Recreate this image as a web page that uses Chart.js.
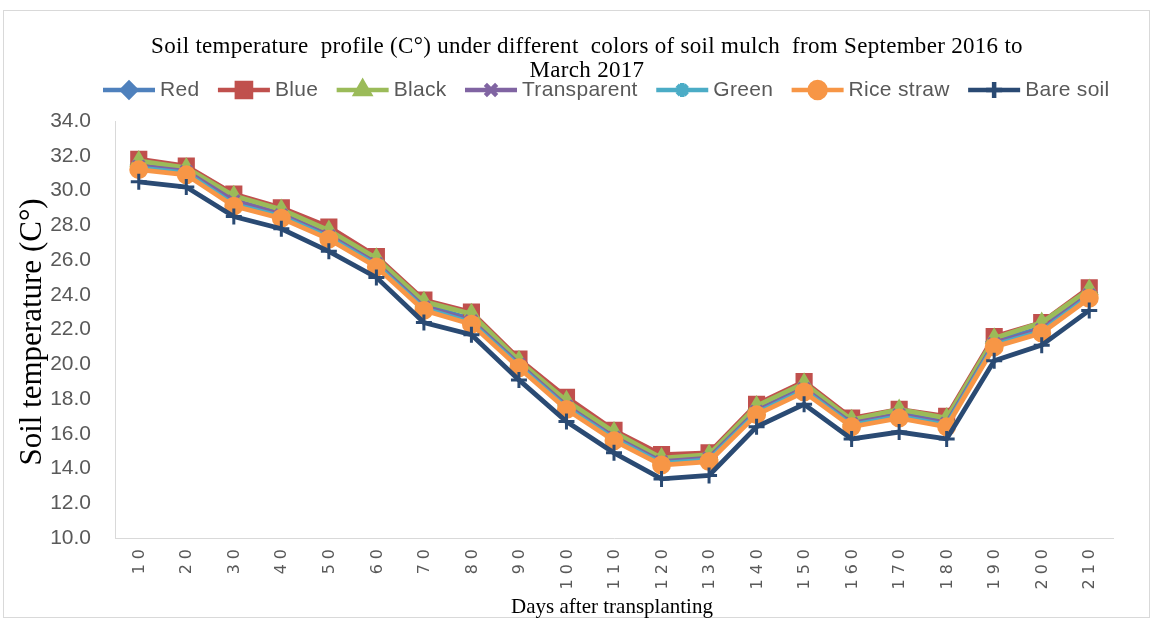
<!DOCTYPE html>
<html>
<head>
<meta charset="utf-8">
<title>Soil temperature profile</title>
<script src="https://cdn.jsdelivr.net/npm/chart.js@4/dist/chart.umd.min.js"></script>
<style>
  html, body { margin: 0; padding: 0; background: #fff; }
  #wrap { width: 1154px; height: 621px; }
</style>
</head>
<body>
<div id="wrap"><canvas id="soilChart" width="1154" height="621"></canvas></div>
<script>
// days after transplanting
const days = [10, 20, 30, 40, 50, 60, 70, 80, 90, 100, 110, 120, 130, 140, 150, 160, 170, 180, 190, 200, 210];

// soil temperature (C°) per mulch colour
const red         = [31.5, 31.2, 29.4, 28.7, 27.5, 25.9, 23.4, 22.6, 20.1, 17.7, 15.9, 14.4, 14.6, 17.4, 18.7, 16.7, 17.2, 16.7, 21.3, 22.1, 24.1];
const blue        = [31.8, 31.4, 29.8, 29.0, 27.9, 26.2, 23.7, 23.0, 20.3, 18.1, 16.2, 14.8, 14.9, 17.7, 19.0, 16.9, 17.4, 17.0, 21.6, 22.4, 24.4];
const black       = [31.7, 31.3, 29.7, 28.9, 27.7, 26.1, 23.6, 22.9, 20.2, 17.9, 16.1, 14.6, 14.8, 17.6, 18.9, 16.8, 17.4, 16.9, 21.5, 22.4, 24.3];
const transparent = [31.4, 31.1, 29.4, 28.6, 27.4, 25.8, 23.3, 22.5, 20.0, 17.6, 15.8, 14.4, 14.6, 17.3, 18.6, 16.6, 17.1, 16.6, 21.2, 22.0, 24.0];
const green       = [31.3, 31.0, 29.2, 28.5, 27.3, 25.7, 23.2, 22.4, 19.9, 17.5, 15.7, 14.3, 14.5, 17.2, 18.5, 16.5, 17.0, 16.5, 21.1, 21.9, 23.9];
const riceStraw   = [31.2, 30.9, 29.1, 28.4, 27.2, 25.6, 23.1, 22.3, 19.8, 17.4, 15.6, 14.2, 14.4, 17.1, 18.4, 16.4, 16.9, 16.4, 21.0, 21.8, 23.8];
const bareSoil    = [30.5, 30.2, 28.5, 27.8, 26.5, 25.0, 22.4, 21.7, 19.1, 16.7, 14.9, 13.4, 13.6, 16.4, 17.7, 15.7, 16.1, 15.7, 20.2, 21.1, 23.1];

const yTicks = [10, 12, 14, 16, 18, 20, 22, 24, 26, 28, 30, 32, 34];

const titleLines = ['Soil temperature  profile (C°) under different  colors of soil mulch  from September 2016 to', 'March 2017'];
const xTitle = 'Days after transplanting';
const yTitle = 'Soil temperature (C°)';

const series = [
    { label: 'Red',         data: red,         color: '#4F81BD', style: 'rectRot',  radius: 7 },
    { label: 'Blue',        data: blue,        color: '#C0504D', style: 'rect',     radius: 10 },
    { label: 'Black',       data: black,       color: '#9BBB59', style: 'triangle', radius: 8 },
    { label: 'Transparent', data: transparent, color: '#8064A2', style: 'crossRot', radius: 8 },
    { label: 'Green',       data: green,       color: '#4BACC6', style: 'star',     radius: 7 },
    { label: 'Rice straw',  data: riceStraw,   color: '#F79646', style: 'circle',   radius: 8 },
    { label: 'Bare soil',   data: bareSoil,    color: '#2A4A73', style: 'cross',    radius: 8 }
];

const GRAY = '#595959';

// title, legend, axis titles and rotated day labels drawn by hand
const decor = {
    id: 'decor',
    beforeDraw(chart) {
        const ctx = chart.ctx;
        ctx.save();
        ctx.fillStyle = '#fff';
        ctx.fillRect(0, 0, chart.width, chart.height);
        ctx.strokeStyle = '#d9d9d9';
        ctx.lineWidth = 1;
        ctx.strokeRect(3.5, 10.5, 1146, 607);
        ctx.restore();
    },
    afterDraw(chart) {
        const ctx = chart.ctx;
        const xs = chart.scales.x;
        ctx.save();

        // title
        ctx.fillStyle = '#000';
        ctx.textAlign = 'center';
        ctx.textBaseline = 'middle';
        ctx.font = '23px "Liberation Serif"';
        ctx.letterSpacing = '0.3px';
        ctx.fillText(titleLines[0], 587, 47);
        ctx.fillText(titleLines[1], 587, 71);

        // legend
        ctx.font = '21px "Liberation Sans"';
        ctx.letterSpacing = '0.3px';
        ctx.textAlign = 'left';
        let x = 103;
        const y = 90;
        series.forEach(s => {
            ctx.strokeStyle = s.color;
            ctx.lineWidth = 4.5;
            ctx.beginPath();
            ctx.moveTo(x, y);
            ctx.lineTo(x + 52, y);
            ctx.stroke();
            ctx.fillStyle = s.color;
            Chart.helpers.drawPoint(ctx, {
                pointStyle: s.style, radius: s.radius, rotation: 0, borderWidth: 3
            }, x + 26, y);
            ctx.fillStyle = GRAY;
            ctx.fillText(s.label, x + 57, y);
            x += 57 + ctx.measureText(s.label).width + 18.5;
        });

        // x tick labels, rotated
        ctx.font = '16px "DejaVu Sans"';
        ctx.letterSpacing = '5px';
        ctx.fillStyle = GRAY;
        ctx.textAlign = 'right';
        ctx.textBaseline = 'middle';
        days.forEach((d, i) => {
            ctx.save();
            ctx.translate(xs.getPixelForTick(i) + 1, 544);
            ctx.rotate(-Math.PI / 2);
            ctx.fillText(String(d), 0, 0);
            ctx.restore();
        });
        ctx.letterSpacing = '0px';

        // axis titles
        ctx.fillStyle = '#000';
        ctx.textAlign = 'center';
        ctx.font = '21px "Liberation Serif"';
        ctx.fillText(xTitle, 612, 607);
        ctx.save();
        ctx.translate(33, 332);
        ctx.rotate(-Math.PI / 2);
        ctx.font = '31px "Liberation Serif"';
        ctx.fillText(yTitle, 0, 0);
        ctx.restore();

        ctx.restore();
    }
};

const ctx = document.getElementById('soilChart').getContext('2d');
new Chart(ctx, {
    type: 'line',
    data: {
        labels: days,
        datasets: series.map((s, i) => ({
            label: s.label,
            data: s.data,
            borderColor: s.color,
            backgroundColor: s.color,
            borderWidth: 4.8,
            pointStyle: s.style,
            pointRadius: s.radius,
            pointHoverRadius: s.radius,
            pointBorderWidth: 3,
            pointBorderColor: s.color,
            pointBackgroundColor: s.color,
            order: series.length - i,
            tension: 0
        }))
    },
    options: {
        responsive: false,
        animation: false,
        layout: { padding: { left: 0, right: 41, top: 121, bottom: 0 } },
        plugins: {
            legend: { display: false },
            title: { display: false },
            tooltip: { enabled: false }
        },
        scales: {
            x: {
                offset: true,
                grid: { display: false, drawTicks: false },
                border: { color: '#d9d9d9', width: 1 },
                ticks: { display: false },
                afterFit(scale) { scale.height = 83; }
            },
            y: {
                min: 10,
                max: 34,
                afterBuildTicks(scale) { scale.ticks = yTicks.map(v => ({ value: v })); },
                grid: { display: false, drawTicks: false },
                border: { color: '#d9d9d9', width: 1 },
                ticks: {
                    padding: 24,
                    color: GRAY,
                    font: { family: 'Liberation Sans', size: 21 },
                    callback: v => v.toFixed(1)
                },
                afterFit(scale) { scale.width = 115; }
            }
        }
    },
    plugins: [decor]
});
</script>
</body>
</html>
